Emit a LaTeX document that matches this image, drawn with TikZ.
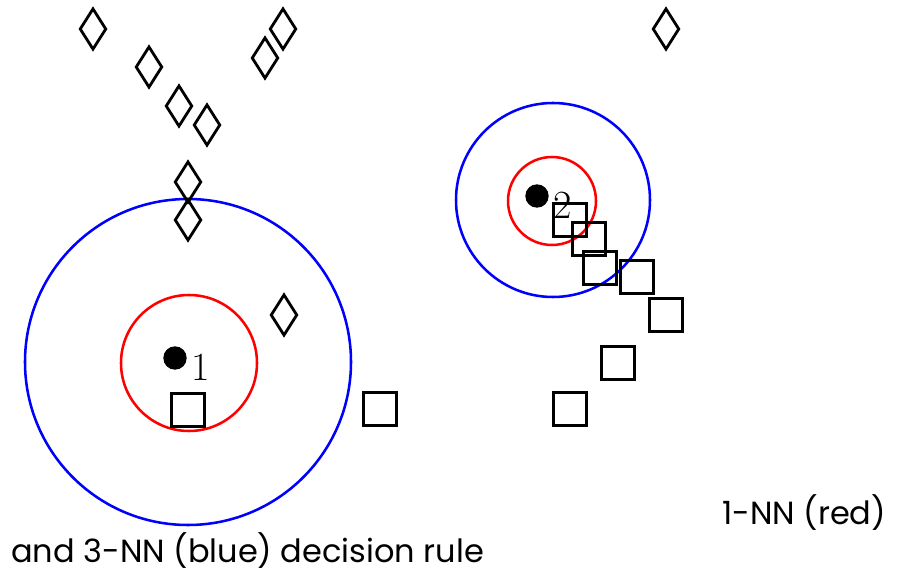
\documentclass[tikz,border=0pt]{standalone}
\usepackage{fontspec}
\newfontfamily\labelfont{Poppins}
\usetikzlibrary{shapes.geometric}
\begin{document}
\begin{tikzpicture}[x=0.75pt,y=-0.75pt,
  dia/.style={draw=black,line width=2.1pt,diamond,inner sep=0pt,minimum width=20pt,minimum height=31pt},
  sq/.style={draw=black,line width=2.25pt,rectangle,inner sep=0pt,minimum size=24.75pt},
  pt/.style={fill=black,circle,inner sep=0pt,minimum size=17.5pt},
  num/.style={font=\fontsize{30}{30}\selectfont,inner sep=0pt},
  ring/.style={line width=1.9pt},
  captext/.style={font=\labelfont\fontsize{24}{24}\selectfont,inner sep=0pt,anchor=base west}]
\useasboundingbox (0,0) rectangle (910,573);
% circles
\draw[ring,blue] (188,362) circle[radius=163];
\draw[ring,red] (189,363) circle[radius=68];
\draw[ring,blue] (553,200) circle[radius=97];
\draw[ring,red] (552,201) circle[radius=44];
% diamonds
\node[dia] (d1) at (93,29) {};
\node[dia] (d2) at (149,67) {};
\node[dia] (d3) at (179,106) {};
\node[dia] (d4) at (207,125) {};
\node[dia] (d5) at (188,182) {};
\node[dia] (d6) at (188,220) {};
\node[dia] (d7) at (283,29) {};
\node[dia] (d8) at (265,58) {};
\node[dia] (d9) at (284,315) {};
\node[dia] (d10) at (666,29) {};
% squares
\node[sq] (s0) at (188,410) {};
\node[sq] (s1) at (570,220) {};
\node[sq] (s2) at (589,239) {};
\node[sq] (s3) at (600,268) {};
\node[sq] (s4) at (637,277) {};
\node[sq] (s5) at (666,315) {};
\node[sq] (s6) at (618,363) {};
\node[sq] (s7) at (570,409) {};
\node[sq] (s8) at (380,409) {};
% query points
\node[pt] (p1) at (175,358) {};
\node[num] (l1) at (201,367) {1};
\node[pt] (p2) at (537,196) {};
\node[num] (l2) at (563,205) {2};
% captions
\node[captext] (c1) at (722,524) {1-NN (red)};
\node[captext] (c2) at (11,562) {and 3-NN (blue) decision rule};
\end{tikzpicture}
\end{document}
